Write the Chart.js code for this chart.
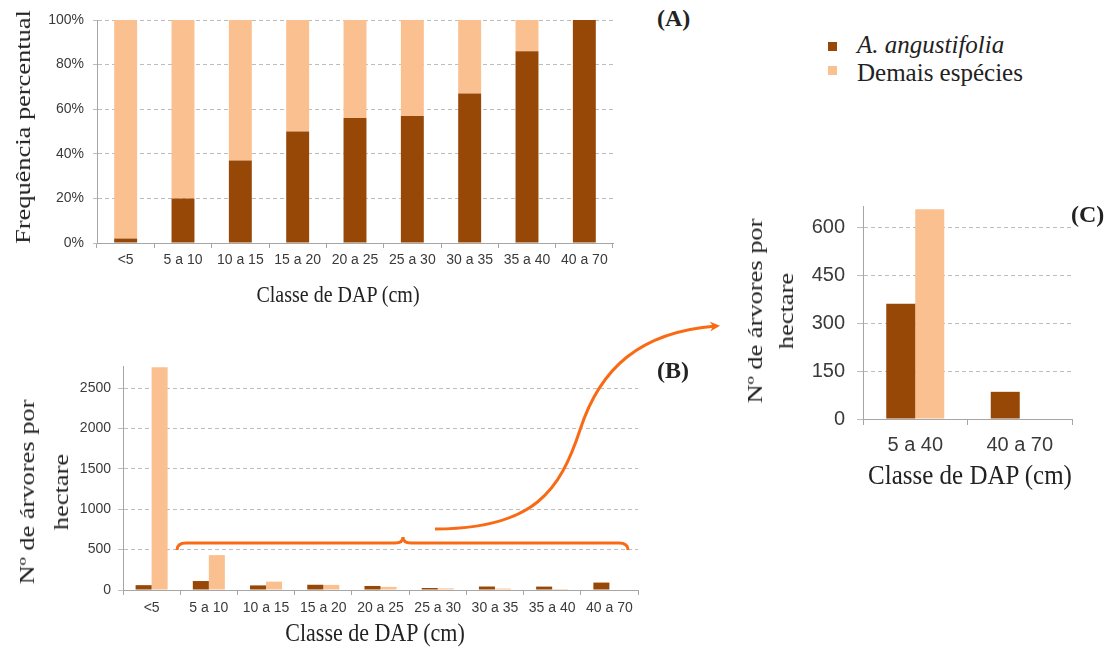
<!DOCTYPE html>
<html>
<head>
<meta charset="utf-8">
<script src="https://cdn.jsdelivr.net/npm/chart.js@4.4.0/dist/chart.umd.min.js"></script>
<style>
  html, body { margin: 0; padding: 0; background: #fff; }
  body { width: 1116px; height: 651px; position: relative; overflow: hidden; }
  canvas { position: absolute; }
  .t { position: absolute; font-family: "Liberation Serif", "DejaVu Serif", serif; color: #222; white-space: nowrap; transform: translate(-50%, -50%) scaleY(1.12); }
  .rot { text-align: center; transform: translate(-50%, -50%) rotate(-90deg) scaleX(1.2); }
  .lbl { position: absolute; font-family: "Liberation Serif", serif; font-weight: bold; font-size: 24px; color: #222; transform: translate(0, -50%); }
  .sw { position: absolute; width: 9px; height: 9px; }
  .leg { position: absolute; font-family: "Liberation Serif", serif; font-size: 25px; color: #222; transform: translate(0, -50%); white-space: nowrap; }
  svg { position: absolute; left: 0; top: 0; }
</style>
</head>
<body>
<canvas id="chartA" width="640" height="290" style="left:0px;top:0px;"></canvas>
<canvas id="chartB" width="660" height="300" style="left:0px;top:340px;"></canvas>
<canvas id="chartC" width="310" height="320" style="left:790px;top:150px;"></canvas>

<div class="t rot" style="left:23px;top:127px;font-size:22px;">Frequência percentual</div>
<div class="t" style="left:338px;top:295px;font-size:20px;">Classe de DAP (cm)</div>
<div class="t rot" style="left:44px;top:492px;font-size:22px;line-height:34px;">Nº de árvores por<br>hectare</div>
<div class="t" style="left:375px;top:633px;font-size:22px;">Classe de DAP (cm)</div>
<div class="t rot" style="left:770px;top:311px;font-size:22px;line-height:31px;">Nº de árvores por<br>hectare</div>
<div class="t" style="left:970px;top:475px;font-size:25px;">Classe de DAP (cm)</div>

<div class="lbl" style="left:657px;top:18px;">(A)</div>
<div class="lbl" style="left:657px;top:370px;">(B)</div>
<div class="lbl" style="left:1071px;top:214px;">(C)</div>

<div class="sw" style="left:828px;top:42px;background:#974706;"></div>
<div class="leg" style="left:857px;top:45px;font-style:italic;">A. angustifolia</div>
<div class="sw" style="left:828px;top:66px;background:#FAC090;"></div>
<div class="leg" style="left:857px;top:73px;">Demais espécies</div>

<svg width="1116" height="651">
  <defs>
    <marker id="ah" markerWidth="10" markerHeight="10" refX="6" refY="5" orient="auto" markerUnits="userSpaceOnUse">
      <path d="M0,0 L10,5 L0,10 L3,5 Z" fill="#F96A14"/>
    </marker>
  </defs>
  <path d="M177,550 Q177,543 186,543 L395,543 Q403,543 403,537 Q403,543 411,543 L619,543 Q628,543 628,550" fill="none" stroke="#F96A14" stroke-width="3"/>
  <path d="M435,529 C535,529 560,490 580,430 C600,368 640,332 716,326" fill="none" stroke="#F96A14" stroke-width="3" marker-end="url(#ah)"/>
</svg>

<script>
// ---------- data ----------
const classesAB = ['<5', '5 a 10', '10 a 15', '15 a 20', '20 a 25', '25 a 30', '30 a 35', '35 a 40', '40 a 70'];
const pctAngustifolia = [2, 20, 37, 50, 56, 57, 67, 86, 100];
const pctDemais = [98, 80, 63, 50, 44, 43, 33, 14, 0];
const pctTicks = [0, 20, 40, 60, 80, 100];

const nAngustifolia = [60, 111, 57, 65, 50, 25, 43, 42, 92];
const nDemais = [2760, 432, 104, 63, 38, 20, 18, 12, 0];
const countTicksB = [0, 500, 1000, 1500, 2000, 2500];

const classesC = ['5 a 40', '40 a 70'];
const cAngustifolia = [360, 85];
const cDemais = [656, 0];
const countTicksC = [0, 150, 300, 450, 600];

const seriesNames = ['A. angustifolia', 'Demais espécies'];
const DARK = '#974706';
const LIGHT = '#FAC090';
const AXIS = '#a6a6a6';
const GRID = '#bdbdbd';
const TICKTXT = '#3a3a3a';

function buildChart(id, o) {
  return new Chart(document.getElementById(id), {
    type: 'bar',
    data: {
      labels: o.labels,
      datasets: [
        { label: seriesNames[0], data: o.a, backgroundColor: DARK, borderWidth: 0 },
        { label: seriesNames[1], data: o.d, backgroundColor: LIGHT, borderWidth: 0 }
      ]
    },
    options: {
      responsive: false,
      animation: false,
      events: [],
      layout: { padding: { left: 0, top: o.T, right: o.R, bottom: 0 } },
      datasets: { bar: { categoryPercentage: o.cat, barPercentage: o.bar } },
      plugins: { legend: { display: false }, tooltip: { enabled: false }, title: { display: false } },
      scales: {
        x: {
          stacked: o.stacked,
          grid: { offset: true, drawOnChartArea: false, drawTicks: true, tickLength: o.xTick, color: AXIS },
          border: { display: true, color: AXIS, width: 1 },
          ticks: { color: TICKTXT, padding: o.xPad, maxRotation: 0, autoSkip: false, font: { family: 'Liberation Sans', size: o.font } },
          afterFit: s => { s.height = o.H; }
        },
        y: {
          stacked: o.stacked,
          min: 0,
          max: o.max,
          afterBuildTicks: s => { s.ticks = o.ticks.map(v => ({ value: v })); },
          grid: {
            drawTicks: true,
            tickLength: o.yTick,
            color: c => (c.tick && c.tick.value === 0) ? 'rgba(0,0,0,0)' : GRID,
            tickColor: GRID
          },
          border: { display: true, color: AXIS, width: 1, dash: [4, 3] },
          ticks: { color: TICKTXT, padding: o.yPad, font: { family: 'Liberation Sans', size: o.font }, callback: o.fmt },
          afterFit: s => { s.width = o.W; }
        }
      }
    }
  });
}

buildChart('chartA', {
  labels: classesAB, a: pctAngustifolia, d: pctDemais, stacked: true,
  cat: 1.0, bar: 0.4, max: 100, ticks: pctTicks, fmt: v => v + '%',
  T: 20, R: 27, W: 97, H: 47, xTick: 5, yTick: 4, xPad: 4, yPad: 9, font: 14
});

buildChart('chartB', {
  labels: classesAB, a: nAngustifolia, d: nDemais, stacked: false,
  cat: 0.56, bar: 1.0, max: 2775, ticks: countTicksB, fmt: v => String(v),
  T: 26, R: 22, W: 123, H: 50, xTick: 5, yTick: 5, xPad: 5, yPad: 7, font: 14
});

buildChart('chartC', {
  labels: classesC, a: cAngustifolia, d: cDemais, stacked: false,
  cat: 0.555, bar: 1.0, max: 666, ticks: countTicksC, fmt: v => String(v),
  T: 56, R: 28, W: 73, H: 51, xTick: 6, yTick: 6, xPad: 8, yPad: 12, font: 20
});
</script>
</body>
</html>
